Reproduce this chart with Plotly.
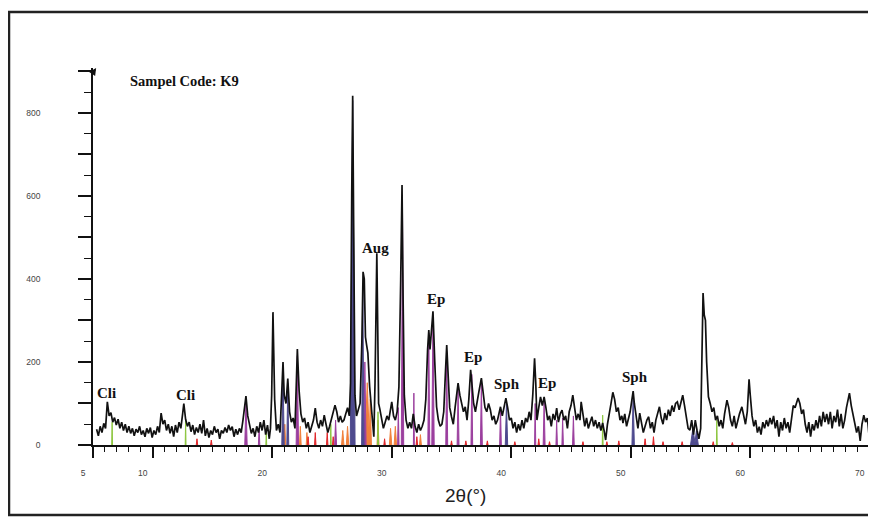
import plotly.graph_objects as go

# ---------------- data ----------------
two_theta = [5.3,5.45,5.6,5.75,5.9,6.05,6.2,6.35,6.5,6.65,6.8,6.95,7.1,7.25,7.4,7.55,7.7,7.85,8.0,8.15,8.3,8.45,8.6,8.75,8.9,9.05,9.2,9.35,9.5,9.65,9.8,9.95,10.1,10.25,10.4,10.55,10.7,10.85,11.0,11.15,11.3,11.45,11.6,11.75,11.9,12.05,12.2,12.35,12.5,12.6,12.75,12.9,13.05,13.2,13.35,13.5,13.65,13.8,13.95,14.1,14.25,14.4,14.55,14.7,14.85,15.0,15.15,15.3,15.45,15.6,15.75,15.9,16.05,16.2,16.35,16.5,16.65,16.8,16.95,17.1,17.25,17.4,17.55,17.7,17.8,17.95,18.1,18.25,18.4,18.55,18.7,18.85,19.0,19.15,19.3,19.45,19.6,19.75,19.85,19.95,20.06,20.2,20.35,20.5,20.65,20.8,20.9,21.0,21.15,21.3,21.45,21.6,21.75,21.9,22.0,22.1,22.25,22.4,22.55,22.7,22.85,23.0,23.15,23.3,23.45,23.6,23.75,23.9,24.05,24.2,24.35,24.5,24.65,24.8,24.95,25.1,25.25,25.4,25.55,25.7,25.85,26.0,26.15,26.3,26.45,26.55,26.65,26.73,26.82,26.92,27.05,27.2,27.35,27.5,27.6,27.7,27.8,27.9,28.0,28.15,28.3,28.4,28.5,28.6,28.7,28.75,28.82,28.9,29.0,29.15,29.3,29.45,29.6,29.75,29.85,30.0,30.15,30.3,30.45,30.6,30.75,30.86,30.95,31.05,31.2,31.35,31.5,31.65,31.8,31.95,32.1,32.25,32.4,32.55,32.7,32.85,33.0,33.1,33.2,33.3,33.45,33.6,33.75,33.9,34.05,34.2,34.35,34.5,34.6,34.7,34.85,35.0,35.15,35.3,35.45,35.55,35.7,35.85,36.0,36.15,36.3,36.45,36.6,36.7,36.85,37.0,37.15,37.3,37.5,37.65,37.8,37.95,38.1,38.25,38.4,38.55,38.7,38.85,39.0,39.1,39.25,39.4,39.55,39.7,39.85,40.0,40.15,40.3,40.45,40.6,40.75,40.9,41.05,41.2,41.35,41.5,41.65,41.8,41.95,42.05,42.15,42.3,42.45,42.6,42.75,42.9,43.05,43.2,43.35,43.5,43.65,43.8,43.95,44.1,44.25,44.4,44.55,44.7,44.85,45.0,45.15,45.3,45.45,45.6,45.75,45.85,46.0,46.15,46.3,46.45,46.6,46.75,46.9,47.05,47.2,47.35,47.5,47.65,47.8,47.9,48.05,48.2,48.35,48.5,48.65,48.8,48.95,49.1,49.25,49.35,49.5,49.65,49.8,49.95,50.1,50.2,50.3,50.45,50.6,50.75,50.9,51.05,51.2,51.35,51.5,51.65,51.8,51.95,52.1,52.25,52.4,52.55,52.7,52.85,53.0,53.15,53.3,53.45,53.6,53.75,53.9,54.05,54.2,54.35,54.5,54.65,54.8,54.95,55.1,55.25,55.4,55.55,55.7,55.85,55.95,56.05,56.15,56.25,56.35,56.5,56.65,56.8,56.95,57.1,57.25,57.4,57.55,57.7,57.85,58.05,58.2,58.35,58.5,58.65,58.8,58.95,59.1,59.3,59.45,59.6,59.75,59.9,60.0,60.15,60.3,60.45,60.6,60.75,60.9,61.05,61.2,61.35,61.5,61.65,61.8,61.95,62.1,62.25,62.4,62.55,62.7,62.85,63.0,63.15,63.3,63.45,63.6,63.75,63.9,64.0,64.15,64.3,64.45,64.6,64.75,64.9,65.05,65.2,65.35,65.5,65.65,65.8,65.95,66.1,66.25,66.4,66.55,66.7,66.85,67.0,67.15,67.3,67.45,67.6,67.75,67.9,68.05,68.2,68.3,68.45,68.6,68.75,68.9,69.05,69.2,69.35,69.5,69.65,69.8,69.95,70.05]
counts = [38,22,45,30,52,40,104,70,78,55,66,48,62,40,55,35,50,30,45,28,40,22,38,30,45,25,35,20,40,28,42,18,35,25,45,30,77,50,60,35,50,28,45,20,48,30,55,40,75,100,62,45,55,32,48,25,42,30,50,28,60,22,40,18,35,25,45,30,38,15,35,28,42,30,48,35,44,20,38,25,40,30,60,90,118,70,45,28,40,20,45,30,55,35,60,25,48,15,40,120,320,110,35,50,30,120,200,120,100,160,80,55,65,40,120,231,130,75,55,65,40,55,30,45,60,89,55,40,60,45,72,50,30,45,60,75,96,80,55,70,55,60,75,90,70,150,600,841,500,120,70,85,100,250,417,400,260,240,222,140,92,40,20,150,440,462,300,100,87,60,40,55,70,60,80,104,70,60,80,140,400,626,350,120,60,40,55,40,75,45,30,50,35,45,60,110,230,277,230,260,322,200,92,60,45,50,80,180,241,180,90,68,50,90,130,149,120,100,80,92,60,110,181,150,100,80,110,130,161,120,90,80,100,85,60,70,50,60,80,92,70,90,113,90,60,65,40,55,30,50,35,60,40,65,55,80,60,120,209,150,60,90,116,95,116,90,60,70,45,75,60,89,55,75,84,60,70,40,80,95,120,90,60,75,60,104,70,45,65,40,55,68,45,60,40,55,35,53,30,12,50,80,100,127,110,80,90,60,70,53,75,45,60,80,110,130,100,70,40,77,55,30,45,60,68,40,55,30,60,75,92,65,50,77,60,85,70,95,80,100,104,85,105,120,95,70,40,36,60,25,60,35,15,40,200,366,313,300,200,116,100,80,90,60,70,45,60,40,75,108,90,60,45,70,40,60,75,92,70,50,80,158,120,70,45,60,30,44,25,55,40,60,45,65,50,70,40,60,20,55,35,65,40,55,30,70,95,90,105,113,100,75,85,50,30,55,20,50,35,60,40,70,45,80,55,75,50,80,40,70,55,85,45,75,40,60,90,110,125,95,70,55,30,45,10,50,72,55,65,20,10]

# phase reference peaks (position, height, half-width)
navy_pos = [20.9, 21.3, 26.73, 27.58, 39.6, 50.2, 55.2, 55.5]
navy_h = [185, 150, 830, 380, 100, 120, 40, 35]
navy_w = [0.1, 0.08, 0.2, 0.1, 0.1, 0.1, 0.2, 0.15]

purple_pos = [17.8, 18.9, 22.1, 25.3, 27.75, 30.55, 30.9, 31.85, 33.1, 33.45, 34.6, 35.55, 36.7, 37.5, 39.1, 42.0, 42.75, 43.8, 44.3, 45.2]
purple_h = [105, 40, 215, 60, 200, 90, 560, 125, 270, 310, 225, 135, 170, 150, 90, 100, 105, 60, 65, 70]
purple_w = [0.1, 0.06, 0.1, 0.08, 0.1, 0.06, 0.1, 0.04, 0.08, 0.1, 0.08, 0.08, 0.07, 0.08, 0.07, 0.05, 0.08, 0.06, 0.06, 0.07]

orange_pos = [21.05, 22.35, 22.9, 25.9, 26.3, 27.95, 28.2, 28.85, 29.9, 30.3, 32.4]
orange_h = [50, 45, 30, 35, 45, 150, 110, 60, 40, 45, 25]
orange_w = [0.08, 0.07, 0.06, 0.1, 0.1, 0.2, 0.1, 0.08, 0.1, 0.1, 0.08]

red_pos = [13.7, 14.9, 23.0, 23.6, 24.6, 25.1, 29.4, 32.1, 35.0, 36.2, 38.0, 40.3, 42.3, 43.2, 46.0, 48.0, 49.0, 51.2, 51.9, 52.7, 54.3, 56.9, 58.5]
red_h = [15, 12, 20, 30, 30, 20, 15, 20, 10, 10, 10, 8, 15, 8, 8, 8, 10, 15, 20, 8, 8, 8, 6]

green_pos = [6.6, 12.75, 19.5, 24.9, 28.85, 47.65, 57.2]
green_h = [55, 60, 35, 50, 80, 72, 60]

x_tick_vals = [5, 10, 20, 30, 40, 50, 60, 70]
x_tick_text = ["5", "10", "20", "30", "40", "50", "60", "70"]
y_tick_vals = [0, 100, 200, 300, 400, 500, 600, 700, 800, 900]
y_tick_text = ["0", "", "200", "", "400", "", "600", "", "800", ""]

labels_text = ["Cli", "Cli", "Aug", "Ep", "Ep", "Sph", "Ep", "Sph"]
labels_x = [6.17, 12.7, 28.6, 33.7, 36.8, 39.65, 43.0, 50.35]
labels_y = [125, 120, 475, 352, 212, 147, 149, 164]


def triangles(pos, h, w):
    xs, ys = [], []
    for p, hh, ww in zip(pos, h, w):
        xs += [p - ww, p, p + ww, None]
        ys += [0, hh, 0, None]
    return xs, ys


fig = go.Figure()

phase_sets = [
    (orange_pos, orange_h, orange_w, "#f0803c"),
    (red_pos, red_h, [0.06] * len(red_pos), "#e0262a"),
    (purple_pos, purple_h, purple_w, "#9b3f9e"),
    (navy_pos, navy_h, navy_w, "#4e4a8e"),
    (green_pos, green_h, [0.035] * len(green_pos), "#8dc63f"),
]
for pos, h, w, col in phase_sets:
    xs, ys = triangles(pos, h, w)
    fig.add_trace(go.Scatter(x=xs, y=ys, mode="lines", fill="toself",
                             fillcolor=col, line=dict(color=col, width=1),
                             hoverinfo="skip", showlegend=False))

fig.add_trace(go.Scatter(x=two_theta, y=counts, mode="lines",
                         line=dict(color="#111111", width=1.7),
                         showlegend=False))

serif = "Liberation Serif, Times New Roman, serif"
for t, xx, yy in zip(labels_text, labels_x, labels_y):
    fig.add_annotation(x=xx, y=yy, text="<b>%s</b>" % t, showarrow=False,
                       font=dict(family=serif, size=15, color="#111"))

fig.add_annotation(x=7.93, y=877, text="<b>Sampel Code: K9</b>", showarrow=False,
                   xanchor="left", font=dict(family=serif, size=14.5, color="#111"))

fig.add_annotation(xref="paper", yref="paper", x=0.479, y=-0.133,
                   xanchor="center", yanchor="middle",
                   text="2θ(°)", showarrow=False,
                   font=dict(family="Liberation Sans, Arial, sans-serif", size=19, color="#222"))

# small arrowhead at the top of the y axis
fig.add_annotation(xref="paper", yref="paper", x=0.004, y=1.0, ax=-4, ay=6,
                   text="", showarrow=True, arrowhead=2, arrowsize=0.9,
                   arrowwidth=1.6, arrowcolor="#111", standoff=0)

# outer frame
fig.add_shape(type="rect", xref="paper", yref="paper",
              x0=-0.1081, x1=1.0039, y0=-0.1857, y1=1.1485,
              line=dict(color="#222", width=2.5), fillcolor="rgba(0,0,0,0)")

tickfont = dict(family="Liberation Sans, Arial, sans-serif", size=8.5, color="#444")
fig.update_xaxes(range=[5, 70.02], showgrid=False, zeroline=False, automargin=False,
                 showline=True, linecolor="#111", linewidth=1.8,
                 tickmode="array", tickvals=x_tick_vals, ticktext=x_tick_text,
                 ticks="outside", ticklen=11, tickwidth=1.5, tickcolor="#111",
                 ticklabelshift=-10, ticklabelstandoff=8,
                 minor=dict(dtick=1, tick0=5, ticks="outside", ticklen=5,
                            tickwidth=1.2, tickcolor="#111"),
                 tickfont=tickfont)
fig.update_yaxes(range=[0, 908], showgrid=False, zeroline=False, automargin=False,
                 showline=True, linecolor="#111", linewidth=1.8,
                 tickmode="array", tickvals=y_tick_vals, ticktext=y_tick_text,
                 ticks="outside", ticklen=13, tickwidth=1.5, tickcolor="#111",
                 ticklabelstandoff=36,
                 minor=dict(dtick=50, tick0=0, ticks="outside", ticklen=7,
                            tickwidth=1.2, tickcolor="#111"),
                 tickfont=tickfont)

# the page adds an 8 px body margin, so the figure is 8 px smaller on each axis
fig.update_layout(width=868, height=512,
                  margin=dict(l=85, r=6, t=60, b=75, autoexpand=False),
                  paper_bgcolor="white", plot_bgcolor="white",
                  showlegend=False)

fig.write_html("out.html")
